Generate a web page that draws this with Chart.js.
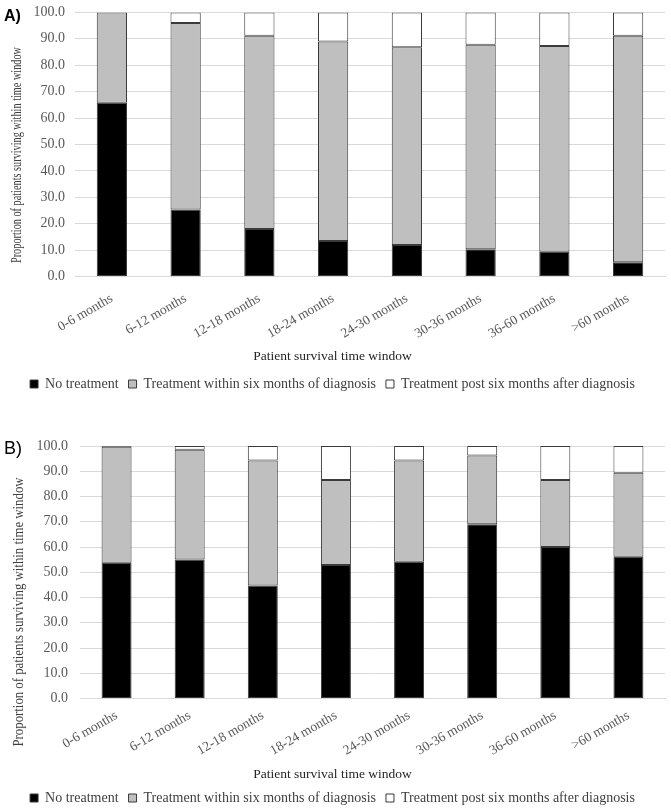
<!DOCTYPE html>
<html>
<head>
<meta charset="utf-8">
<script src="https://cdn.jsdelivr.net/npm/chart.js@4.4.0/dist/chart.umd.min.js"></script>
<style>
    body { margin: 0; background: #fff; width: 671px; height: 810px; overflow: hidden; }
    .panel { position: absolute; left: 0; width: 671px; }
    .tag { position: absolute; font-family: "Liberation Sans", Arial, sans-serif; color: #000; }
</style>
</head>
<body>
<div class="panel" style="top:-6px;height:407px"><canvas id="chart-a"></canvas></div>
<div class="panel" style="top:400px;height:415px"><canvas id="chart-b"></canvas></div>
<div class="tag" style="left:4px;top:7px;font-size:16px;font-weight:bold">A)</div>
<div class="tag" style="left:4px;top:438px;font-size:18px">B)</div>
<script>
const categories = ['0-6 months', '6-12 months', '12-18 months', '18-24 months',
                    '24-30 months', '30-36 months', '36-60 months', '>60 months'];
const seriesNames = ['No treatment', 'Treatment within six months of diagnosis',
                     'Treatment post six months after diagnosis'];

// panel A
const noTreatmentA = [65.8, 25.4, 18.0, 13.5, 11.9, 10.3, 9.4, 5.4];
const withinSixA   = [34.2, 70.6, 73.2, 75.5, 74.9, 77.5, 77.9, 85.8];
const postSixA     = [0.0, 4.0, 8.8, 11.0, 13.2, 12.2, 12.7, 8.8];

// panel B
const noTreatmentB = [53.8, 55.1, 44.8, 52.9, 54.2, 69.0, 60.0, 56.1];
const withinSixB   = [45.9, 43.4, 49.5, 33.6, 40.1, 27.2, 26.5, 33.3];
const postSixB     = [0.3, 1.5, 5.7, 13.5, 5.7, 3.8, 13.5, 10.6];

const serif = '"Liberation Serif", "Times New Roman", serif';
const fills = ['#000000', '#bfbfbf', '#ffffff'];

// rotated y title, squeezed to the width used in the figure
const sideTitle = {
    id: 'sideTitle',
    afterDraw(chart, args, opts) {
        const ctx = chart.ctx;
        ctx.save();
        ctx.translate(opts.x, opts.y);
        ctx.rotate(-Math.PI / 2);
        ctx.font = opts.font;
        ctx.fillStyle = '#404040';
        ctx.textAlign = 'center';
        ctx.textBaseline = 'middle';
        ctx.fillText('Proportion of patients surviving within time window', 0, 0, opts.maxWidth);
        ctx.restore();
    }
};

function makeChart(id, values, layout) {
    const ctx = document.getElementById(id).getContext('2d');
    return new Chart(ctx, {
        type: 'bar',
        data: {
            labels: categories,
            datasets: values.map((data, i) => ({
                label: seriesNames[i],
                data: data,
                backgroundColor: fills[i],
                borderColor: '#3a3a3a',
                borderWidth: 1,
                borderSkipped: false,
                categoryPercentage: 1,
                barPercentage: 0.41
            }))
        },
        options: {
            responsive: true,
            maintainAspectRatio: false,
            animation: false,
            layout: { padding: { top: layout.top, right: 6, bottom: 0, left: 0 } },
            scales: {
                x: {
                    stacked: true,
                    grid: { display: false, drawTicks: false },
                    border: { display: true, color: '#d9d9d9' },
                    ticks: {
                        color: '#595959',
                        font: { family: serif, size: 13.5 },
                        minRotation: 30,
                        maxRotation: 30,
                        padding: layout.xPad
                    }
                },
                y: {
                    stacked: true,
                    min: 0,
                    max: 100,
                    afterFit: scale => { scale.width = layout.axisWidth; },
                    grid: { color: '#d9d9d9', drawTicks: false },
                    border: { display: false },
                    ticks: {
                        stepSize: 10,
                        color: '#595959',
                        padding: layout.tickPad,
                        font: { family: serif, size: 14 },
                        callback: v => v.toFixed(1)
                    }
                }
            },
            plugins: {
                tooltip: { enabled: false },
                title: {
                    display: true,
                    position: 'bottom',
                    weight: 500,
                    text: 'Patient survival time window',
                    color: '#262626',
                    font: { family: serif, size: 13.5, weight: 'normal' },
                    padding: { top: layout.titleTop, bottom: layout.titleBottom }
                },
                legend: {
                    position: 'bottom',
                    weight: 1000,
                    labels: {
                        color: '#404040',
                        font: { family: serif, size: 14 },
                        boxWidth: 8,
                        boxHeight: 8,
                        padding: 10
                    }
                },
                sideTitle: layout.side
            }
        },
        plugins: [sideTitle]
    });
}

makeChart('chart-a', [noTreatmentA, withinSixA, postSixA], {
    top: 5, axisWidth: 75, tickPad: 10, xPad: 14, titleTop: -7.5, titleBottom: 2.4,
    side: { x: 17, y: 161, maxWidth: 216, font: '14px ' + serif }
});
makeChart('chart-b', [noTreatmentB, withinSixB, postSixB], {
    top: 46, axisWidth: 80, tickPad: 12, xPad: 9, titleTop: -1.5, titleBottom: -1.6,
    side: { x: 19, y: 212, maxWidth: 269, font: '14px ' + serif }
});
</script>
</body>
</html>
